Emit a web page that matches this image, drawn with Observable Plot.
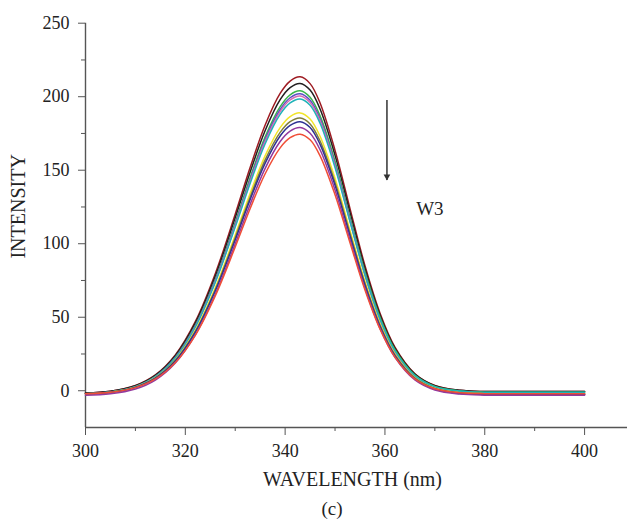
<!DOCTYPE html>
<html><head><meta charset="utf-8">
<script src="https://cdn.jsdelivr.net/npm/d3@7"></script>
<script src="https://cdn.jsdelivr.net/npm/@observablehq/plot@0.6"></script>
<style>
body{margin:0;background:#fff;}
#chart{position:absolute;left:0;top:0;}
#chart svg, #chart svg text{font-family:"Liberation Serif","Times New Roman",serif !important;}
#caption{position:absolute;top:498px;left:0;width:664px;text-align:center;font:19px "Liberation Serif","Times New Roman",serif;color:#222;}
</style>
</head><body><div id="chart"></div><div id="caption">(c)</div>
<script>
const wavelength = [300,305,310,314,318,322,326,330,333,336,339,341,343,345,347,350,353,356,359,362,366,370,375,380,390,400];
const sDarkRed = [-1.6,-0.3,3.6,10.8,24.4,47.0,79.6,120.1,152.0,180.8,202.2,210.6,213.5,208.9,195.7,163.5,123.9,85.0,52.9,29.7,11.6,3.6,0.3,-0.5,-0.5,-0.5];
const sBlack   = [-1.6,-0.4,3.4,10.5,23.9,46.0,77.9,117.6,148.8,177.0,198.0,206.2,209.0,204.5,191.6,160.1,121.3,83.2,51.7,29.0,11.4,3.5,0.3,-0.5,-0.5,-0.5];
const sGreen   = [-2.1,-0.9,2.8,9.7,22.8,44.5,75.7,114.5,145.1,172.7,193.2,201.3,204.0,199.6,187.0,156.1,118.1,80.9,50.1,27.9,10.6,2.9,-0.2,-1.0,-1.0,-1.0];
const sBlue    = [-2.1,-0.9,2.8,9.6,22.6,44.0,75.0,113.4,143.6,171.0,191.3,199.3,202.0,197.6,185.0,154.2,116.4,79.2,48.5,26.3,9.1,1.4,-1.7,-2.5,-2.5,-2.5];
const sPink    = [-2.6,-1.4,2.3,9.1,22.0,43.3,74.1,112.3,142.4,169.6,189.9,197.8,200.5,196.1,183.6,153.1,115.5,78.6,48.1,26.1,9.0,1.4,-1.7,-2.5,-2.5,-2.5];
const sCyan    = [-2.1,-0.9,2.7,9.4,22.1,43.2,73.6,111.4,141.1,168.0,188.0,195.8,198.5,194.2,181.9,151.9,114.9,78.7,48.7,27.1,10.3,2.8,-0.2,-1.0,-1.0,-1.0];
const sYellow  = [-2.1,-1.0,2.4,8.9,21.0,41.0,70.0,106.0,134.3,159.9,179.0,186.5,189.0,184.9,173.1,144.4,109.0,74.3,45.6,24.9,8.8,1.6,-1.3,-2.0,-2.0,-2.0];
const sOlive   = [-2.1,-1.0,2.4,8.6,20.5,40.3,68.7,104.1,131.8,157.0,175.7,183.0,185.5,181.5,169.9,141.7,107.0,72.9,44.7,24.4,8.6,1.6,-1.3,-2.0,-2.0,-2.0];
const sNavy    = [-2.1,-1.1,2.3,8.5,20.2,39.7,67.8,102.6,130.1,154.8,173.3,180.5,183.0,179.0,167.6,139.7,105.3,71.6,43.7,23.7,8.0,1.0,-1.8,-2.5,-2.5,-2.5];
const sPurple  = [-3.1,-2.1,1.2,7.3,18.9,38.0,65.6,99.9,126.9,151.3,169.5,176.6,179.0,175.1,163.9,136.5,102.8,69.7,42.4,22.7,7.3,0.5,-2.3,-3.0,-3.0,-3.0];
const sRed     = [-2.1,-1.1,2.1,8.0,19.2,37.7,64.5,97.8,124.0,147.6,165.2,172.1,174.5,170.7,159.8,133.3,100.6,68.5,42.0,22.9,8.0,1.4,-1.3,-2.0,-2.0,-2.0];

const seriesNames  = ["dark red","black","green","blue","pink","cyan","yellow","olive","navy","purple","red"];
const seriesValues = [sDarkRed,sBlack,sGreen,sBlue,sPink,sCyan,sYellow,sOlive,sNavy,sPurple,sRed];
const seriesColors = ["#9e1b22","#231f20","#3ab54a","#5b4fc4","#d66fb4","#1fb3b8","#f2e52a","#7f7d3a","#2e3192","#93399e","#f04e37"];

const xTicks = [300,320,340,360,380,400];
const xMinor = [310,330,350,370,390];
const yTicks = [0,50,100,150,200,250];
const yMinor = [25,75,125,175,225];

const arrowX = [360.4];
const arrowTop = [197.5];
const arrowTip = [143];
const annotation = [{x: 369, y: 124, text: "W3"}];

const rows = [];
seriesValues.forEach((vals, si) => {
  vals.forEach((v, i) => rows.push({series: seriesNames[si], wl: wavelength[i], v}));
});

const font = '"Liberation Serif","Times New Roman",serif';
const axisColor = "#555";
const arrows = arrowX.map((x, i) => ({x, y1: arrowTop[i], y2: arrowTip[i]}));

const plot = Plot.plot({
  width: 627,
  height: 492,
  marginLeft: 85,
  marginRight: 0,
  marginTop: 22.7,
  marginBottom: 65,
  style: {fontFamily: font, fontSize: "18px", color: "#222", background: "#fff"},
  x: {domain: [300, 408.6]},
  y: {domain: [-25, 250]},
  color: {domain: seriesNames, range: seriesColors},
  marks: [
    Plot.ruleX([300], {stroke: axisColor, strokeWidth: 1.4}),
    Plot.ruleY([-25], {stroke: axisColor, strokeWidth: 1.4}),
    Plot.axisX({ticks: xTicks, tickSize: 8, tickPadding: 9, tickFormat: d => String(d), stroke: axisColor, label: null, fontSize: 18}),
    Plot.axisX({ticks: xMinor, tickSize: 4, tickFormat: () => "", stroke: axisColor, label: null}),
    Plot.axisY({ticks: yTicks, tickSize: 7, tickPadding: 9, tickFormat: d => String(d), stroke: axisColor, label: null, fontSize: 18}),
    Plot.axisY({ticks: yMinor, tickSize: 4, tickFormat: () => "", stroke: axisColor, label: null}),
    Plot.line(rows, {x: "wl", y: "v", z: "series", stroke: "series", strokeWidth: 1.5, curve: "catmull-rom"}),
    Plot.ruleX(arrows, {x: "x", y1: "y1", y2: "y2", stroke: "#333", strokeWidth: 1.5}),
    Plot.dot(arrows, {x: "x", y: "y2", dy: -4, symbol: "triangle2", rotate: 180, r: 3.2, fill: "#333", stroke: "none"}),
    Plot.text(annotation, {x: "x", y: "y", text: "text", fontSize: 19, fill: "#222"}),
    Plot.text(["WAVELENGTH (nm)"], {frameAnchor: "bottom", dx: -4, dy: 52, lineAnchor: "middle", fontSize: 20, fill: "#222"}),
    Plot.text(["INTENSITY"], {frameAnchor: "left", dx: -67, dy: -19, rotate: -90, lineAnchor: "middle", textAnchor: "middle", fontSize: 20, fill: "#222"})
  ]
});
document.getElementById("chart").append(plot);
</script>
</body></html>
